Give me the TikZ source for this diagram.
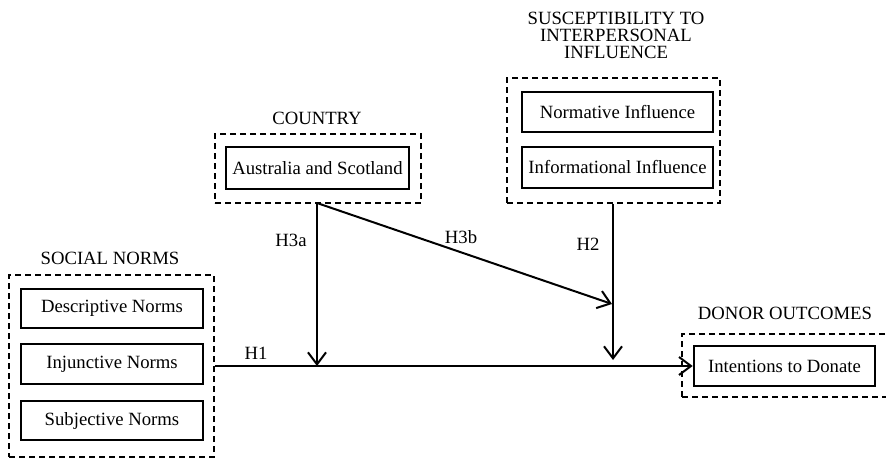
\documentclass[tikz,border=0pt]{standalone}
\usepackage{fontspec}
\setmainfont{Liberation Serif}
\usetikzlibrary{arrows.meta}
\begin{document}
\begin{tikzpicture}[x=1pt,y=-1pt,
  every node/.style={font=\fontsize{18.7}{17}\selectfont},
  grp/.style={draw, line width=1.8pt, dash pattern=on 6pt off 4pt, inner sep=0pt},
  itembox/.style={draw, line width=2.6pt, inner sep=0pt},
  lbl/.style={inner sep=0pt, align=center},
  conn/.style={line width=2pt, -{Straight Barb[length=12pt,width=18pt]}},
  plain/.style={line width=2pt}
]
\useasboundingbox (0,0) rectangle (886,458);
% Country
\node[grp, minimum width=206pt, minimum height=69pt] (cgrp) at (318,168.5) {};
\node[itembox, minimum width=183pt, minimum height=42pt] (aus) at (317.5,168) {Australia and Scotland};
\node[lbl] (clbl) at (317,118) {COUNTRY};
% Susceptibility
\node[grp, minimum width=213pt, minimum height=125pt] (sgrp) at (613.5,140.5) {};
\node[itembox, minimum width=191pt, minimum height=40pt] (norm) at (617.5,112) {Normative Influence};
\node[itembox, minimum width=191pt, minimum height=41pt] (info) at (617.5,167.5) {Informational Influence};
\node[lbl] (slbl1) at (616,18.3) {SUSCEPTIBILITY TO};
\node[lbl] (slbl2) at (616,35.5) {INTERPERSONAL};
\node[lbl] (slbl3) at (616,52.5) {INFLUENCE};
% Social norms
\node[grp, minimum width=205pt, minimum height=182pt] (ngrp) at (111.5,366) {};
\node[itembox, minimum width=182pt, minimum height=39pt] (desc) at (112,308.5) {Descriptive Norms};
\node[itembox, minimum width=182pt, minimum height=40pt] (inj) at (112,364) {Injunctive Norms};
\node[itembox, minimum width=182pt, minimum height=39pt] (subj) at (112,420.5) {Subjective Norms};
\node[lbl] (nlbl) at (110,258) {SOCIAL NORMS};
% Donor outcomes
\node[grp, minimum width=210pt, minimum height=63pt] (dgrp) at (787,365.5) {};
\node[itembox, minimum width=181pt, minimum height=40pt] (int) at (784.5,366) {Intentions to Donate};
\node[lbl] (dlbl) at (785,313) {DONOR OUTCOMES};
% junction coordinates
\coordinate (j1) at (317,366);
\coordinate (j2) at (612,304);
\coordinate (j3) at (613,360);
\coordinate (c0) at (317,203);
% connectors
\draw[conn] (ngrp.east |- int.west) -- (int.west);
\draw[conn] (c0) -- (j1);
\draw[conn] (c0) -- (j2);
\draw[conn] (j3 |- sgrp.south) -- (j3);
% labels
\node[lbl] (h1) at (256,353) {H1};
\node[lbl] (h3a) at (291,240) {H3a};
\node[lbl] (h3b) at (461,237) {H3b};
\node[lbl] (h2) at (588,244) {H2};
\end{tikzpicture}
\end{document}
